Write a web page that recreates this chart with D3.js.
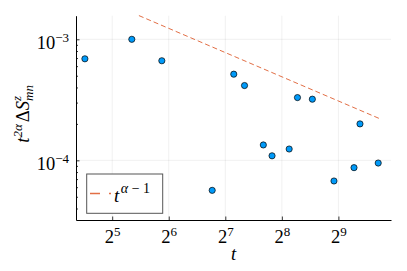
<!DOCTYPE html>
<html lang="en">
<head>
    <meta charset="UTF-8">
    <title>t^2a dS chart</title>
    <style>
        body { margin: 0; background: #fff; }
        text { font-family: "Liberation Serif", "DejaVu Serif", serif; fill: #000; }
    </style>
</head>
<body>
    <div id="chart"></div>

    <script src="https://cdnjs.cloudflare.com/ajax/libs/d3/7.8.5/d3.min.js"></script>
    <script>
        // points
        const tVals = [22.9, 40.7, 58.8, 109, 142, 162, 204, 227, 280, 310, 372, 485, 620, 667, 834];
        const sVals = [6.9e-4, 1.0e-3, 6.65e-4, 5.65e-5, 5.15e-4, 4.15e-4, 1.34e-4, 1.09e-4, 1.24e-4,
                       3.3e-4, 3.2e-4, 6.75e-5, 8.7e-5, 2.0e-4, 9.5e-5];

        // guide line t^(alpha-1), end points
        const lineT = [44.4, 843];
        const lineS = [1.57e-3, 2.22e-4];

        const xTickExp = [5, 6, 7, 8, 9];
        const yTickExp = [-3, -4];

        const width = 407, height = 271;
        const pLeft = 76, pRight = 391, pTop = 15.7, pBottom = 220;

        const svg = d3.select("#chart").append("svg")
            .attr("width", width)
            .attr("height", height);

        const x = d3.scaleLog().base(2)
            .domain([Math.pow(2, 4.36), Math.pow(2, 9.93)])
            .range([pLeft, pRight]);
        const y = d3.scaleLog()
            .domain([Math.pow(10, -4.493), Math.pow(10, -2.805)])
            .range([pBottom, pTop]);

        const xMajor = xTickExp.map(e => Math.pow(2, e));
        const yMajor = yTickExp.map(e => Math.pow(10, e));
        const yMinor = [];
        [-5, -4, -3].forEach(e => {
            for (let k = 2; k <= 9; k++) {
                const v = k * Math.pow(10, e);
                if (v > y.domain()[0] && v < y.domain()[1]) yMinor.push(v);
            }
        });

        // grid
        const grid = svg.append("g").attr("stroke", "#000").attr("stroke-opacity", 0.1).attr("stroke-width", 0.6);
        grid.selectAll("line.gx").data(xMajor).join("line")
            .attr("x1", d => x(d)).attr("x2", d => x(d))
            .attr("y1", pTop).attr("y2", pBottom);
        grid.selectAll("line.gy").data(yMajor).join("line")
            .attr("x1", pLeft).attr("x2", pRight)
            .attr("y1", d => y(d)).attr("y2", d => y(d));

        // guide line
        const line = d3.line().x(d => x(d[0])).y(d => y(d[1]));
        svg.append("path")
            .datum(lineT.map((t, i) => [t, lineS[i]]))
            .attr("d", line)
            .attr("fill", "none")
            .attr("stroke", "#e26f46")
            .attr("stroke-width", 1)
            .attr("stroke-dasharray", "5,3");

        // points
        svg.append("g").selectAll("circle")
            .data(tVals.map((t, i) => [t, sVals[i]]))
            .join("circle")
            .attr("cx", d => x(d[0]))
            .attr("cy", d => y(d[1]))
            .attr("r", 3.1)
            .attr("fill", "#009af9")
            .attr("stroke", "#000")
            .attr("stroke-width", 0.7);

        // axes, ticks pointing inward
        svg.append("g")
            .attr("transform", `translate(0,${pBottom})`)
            .call(d3.axisBottom(x).tickValues(xMajor).tickSize(-3.5).tickFormat("").tickSizeOuter(0));
        const yAxisMinor = svg.append("g")
            .attr("transform", `translate(${pLeft},0)`)
            .call(d3.axisLeft(y).tickValues(yMinor).tickSize(-2).tickFormat("").tickSizeOuter(0));
        yAxisMinor.select(".domain").remove();
        svg.append("g")
            .attr("transform", `translate(${pLeft},0)`)
            .call(d3.axisLeft(y).tickValues(yMajor).tickSize(-3.5).tickFormat("").tickSizeOuter(0));
        svg.selectAll(".domain").attr("stroke", "#000").attr("stroke-width", 1);
        svg.selectAll(".tick line").attr("stroke", "#000").attr("stroke-width", 0.8);

        // tick labels: base with superscript
        function powLabel(g, base, exp, px, py, anchor) {
            const t = g.append("text")
                .attr("x", px).attr("y", py)
                .attr("text-anchor", anchor);
            t.append("tspan").attr("font-size", 18.5).text(base);
            t.append("tspan").attr("font-size", 13).attr("dy", -7.5).text(exp);
        }
        xTickExp.forEach((e, i) => {
            powLabel(svg, "2", String(e), x(xMajor[i]) + 0.5, 243, "middle");
        });
        yTickExp.forEach((e, i) => {
            powLabel(svg, "10", "\u2212" + Math.abs(e), 69, y(yMajor[i]) + 10, "end");
        });

        // axis titles
        svg.append("text")
            .attr("x", (pLeft + pRight) / 2)
            .attr("y", 260)
            .attr("text-anchor", "middle")
            .attr("font-size", 18.5)
            .attr("font-style", "italic")
            .text("t");

        const yl = svg.append("text")
            .attr("transform", `translate(29,${(pTop + pBottom) / 2 - 4}) rotate(-90)`)
            .attr("text-anchor", "middle")
            .attr("font-size", 18.5);
        yl.append("tspan").attr("font-style", "italic").text("t");
        yl.append("tspan").attr("font-style", "italic").attr("font-size", 13).attr("dy", -7.5).text("2\u03B1");
        yl.append("tspan").attr("dy", 7.5).attr("dx", 2).text("\u0394");
        yl.append("tspan").attr("font-style", "italic").text("S");
        yl.append("tspan").attr("font-style", "italic").attr("font-size", 13).attr("dy", -8).text("z");
        yl.append("tspan").attr("font-style", "italic").attr("font-size", 13).attr("dy", 12).attr("dx", -5).text("mn");

        // legend
        const lg = svg.append("g");
        lg.append("rect")
            .attr("x", 86.7).attr("y", 174)
            .attr("width", 76).attr("height", 39.3)
            .attr("fill", "#fff")
            .attr("stroke", "#555")
            .attr("stroke-width", 1);
        lg.append("line")
            .attr("x1", 90).attr("x2", 111)
            .attr("y1", 193.5).attr("y2", 193.5)
            .attr("stroke", "#e26f46")
            .attr("stroke-width", 1.5)
            .attr("stroke-dasharray", "10,9,2");
        const lt = lg.append("text").attr("x", 114).attr("y", 202).attr("font-size", 19);
        lt.append("tspan").attr("font-style", "italic").text("t");
        const sup = lt.append("tspan").attr("font-size", 14).attr("dy", -9).attr("dx", 1.5);
        sup.append("tspan").attr("font-style", "italic").text("\u03B1");
        sup.append("tspan").text(" \u2212 1");
    </script>
</body>
</html>
